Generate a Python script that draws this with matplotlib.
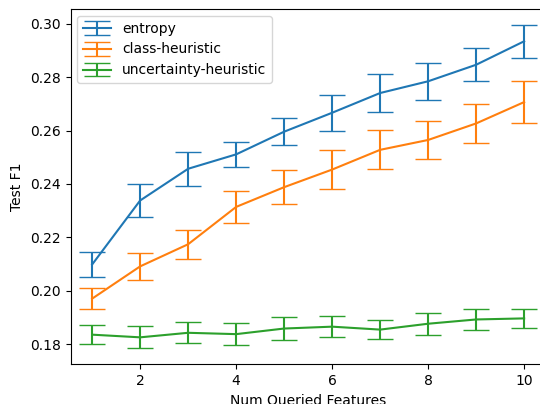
import matplotlib
matplotlib.use('Agg')
import matplotlib.pyplot as plt
import numpy as np

num_features = [1, 2, 3, 4, 5, 6, 7, 8, 9, 10]

entropy_mean = [0.2098, 0.2338, 0.2457, 0.2511, 0.2596, 0.2667, 0.2741, 0.2785, 0.2847, 0.2935]
entropy_err = [0.0047, 0.0061, 0.0063, 0.0048, 0.0050, 0.0068, 0.0070, 0.0070, 0.0061, 0.0061]

class_mean = [0.1970, 0.2091, 0.2174, 0.2314, 0.2388, 0.2454, 0.2528, 0.2565, 0.2627, 0.2707]
class_err = [0.0040, 0.0050, 0.0054, 0.0061, 0.0063, 0.0072, 0.0073, 0.0070, 0.0074, 0.0079]

unc_mean = [0.1835, 0.1825, 0.1842, 0.1837, 0.1858, 0.1865, 0.1854, 0.1876, 0.1892, 0.1896]
unc_err = [0.0036, 0.0041, 0.0039, 0.0041, 0.0043, 0.0040, 0.0036, 0.0041, 0.0038, 0.0035]

fig = plt.figure(figsize=(5.4, 4.04), dpi=100)
ax = fig.add_axes([0.1306, 0.099, 0.88, 0.8787])

ax.errorbar(num_features, entropy_mean, yerr=entropy_err, capsize=9.5, label='entropy')
ax.errorbar(num_features, class_mean, yerr=class_err, capsize=9.5, label='class-heuristic')
ax.errorbar(num_features, unc_mean, yerr=unc_err, capsize=9.5, label='uncertainty-heuristic')

ax.set_xlim(0.55, 10.45)
ax.set_ylim(0.1725, 0.3056)
ax.set_xticks([2, 4, 6, 8, 10])
ax.set_xlabel('Num Queried Features')
ax.set_ylabel('Test F1')
ax.legend(loc='upper left')

fig.savefig('out.png', dpi=100)
